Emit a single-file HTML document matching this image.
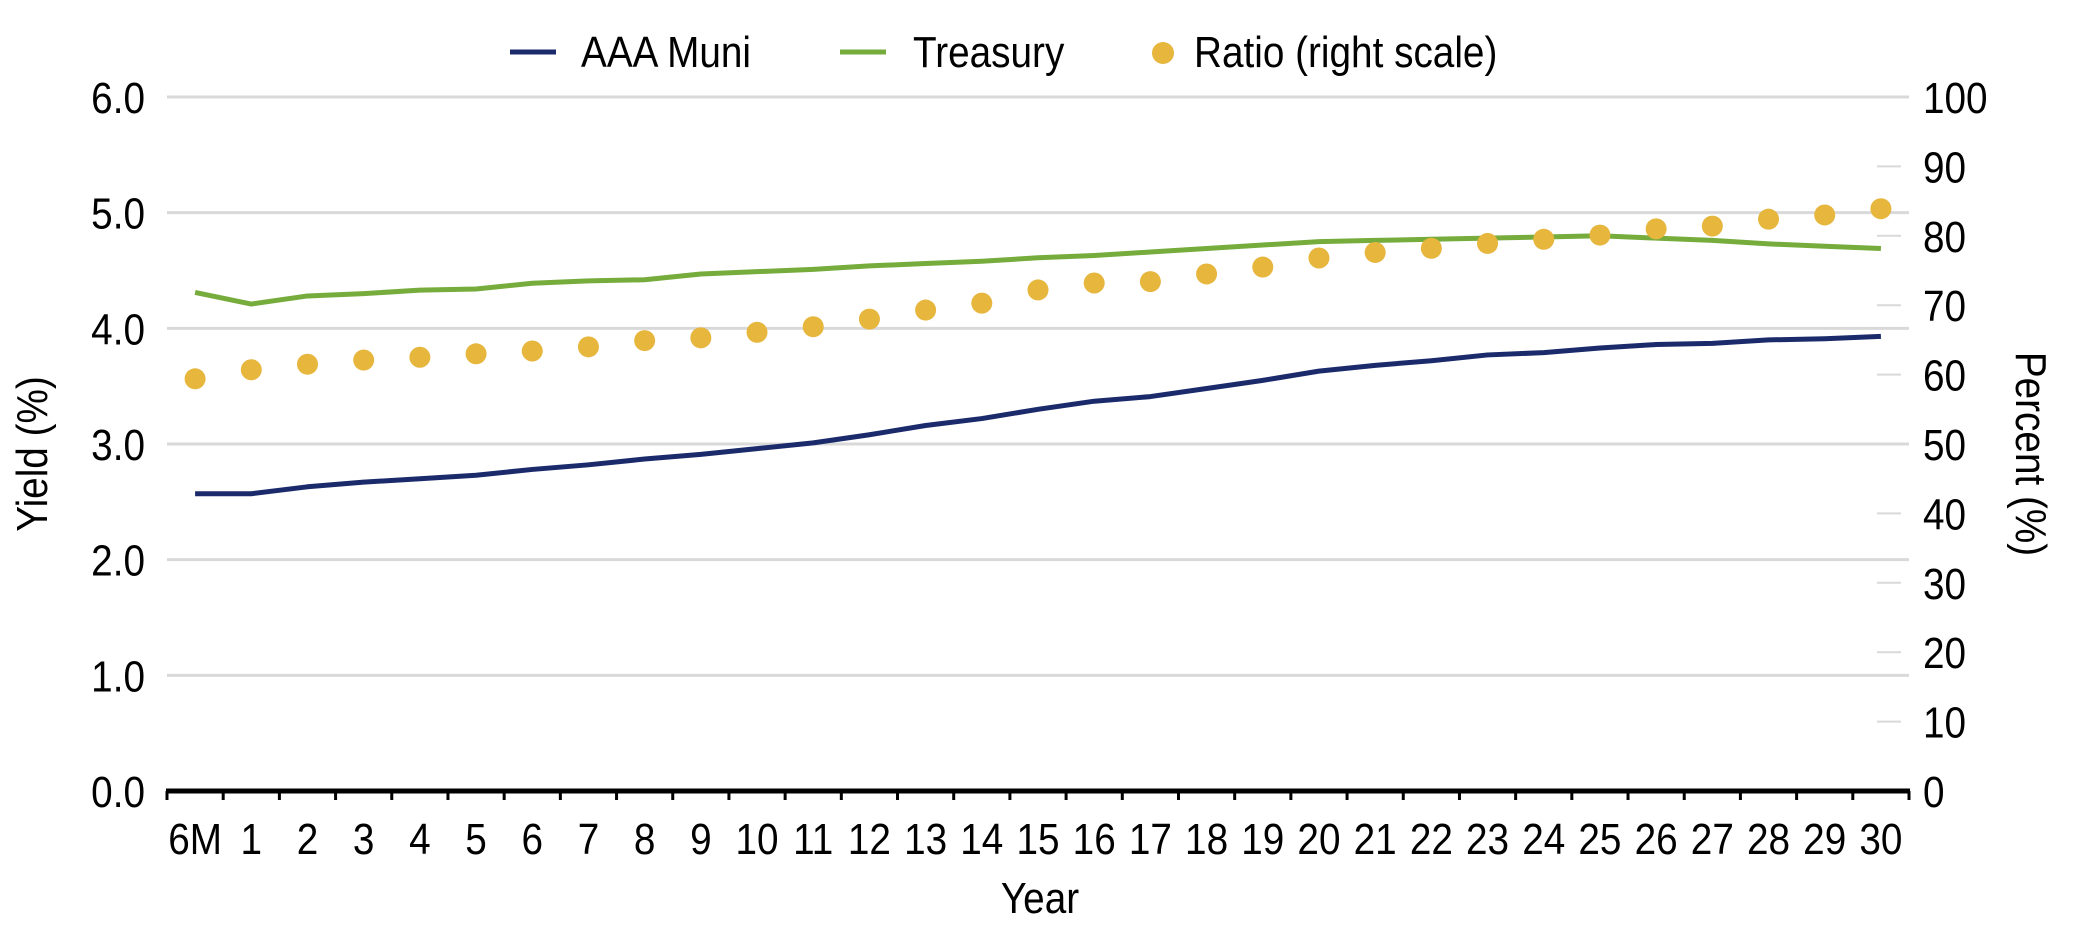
<!DOCTYPE html>
<html><head><meta charset="utf-8"><style>
html,body{margin:0;padding:0;background:#fff;}
svg{display:block;font-family:"Liberation Sans",sans-serif;}
</style></head><body>
<svg id="chart" width="2084" height="936" viewBox="0 0 2084 936" xmlns="http://www.w3.org/2000/svg"></svg>
<script>
const categories = ["6M","1","2","3","4","5","6","7","8","9","10","11","12","13","14","15","16","17","18","19","20","21","22","23","24","25","26","27","28","29","30"];
const muniValues = [2.57,2.57,2.63,2.67,2.70,2.73,2.78,2.82,2.87,2.91,2.96,3.01,3.08,3.16,3.22,3.30,3.37,3.41,3.48,3.55,3.63,3.68,3.72,3.77,3.79,3.83,3.86,3.87,3.90,3.91,3.93];
const treasuryValues = [4.31,4.21,4.28,4.30,4.33,4.34,4.39,4.41,4.42,4.47,4.49,4.51,4.54,4.56,4.58,4.61,4.63,4.66,4.69,4.72,4.75,4.76,4.77,4.78,4.79,4.80,4.78,4.76,4.73,4.71,4.69];
const ratioValues = [59.4,60.7,61.5,62.1,62.5,63.0,63.4,64.0,64.9,65.3,66.1,66.9,68.0,69.3,70.3,72.2,73.2,73.4,74.5,75.5,76.8,77.6,78.2,78.9,79.5,80.1,81.0,81.4,82.4,83.0,83.9];
const leftTicks = ["0.0","1.0","2.0","3.0","4.0","5.0","6.0"];
const rightTicks = ["0","10","20","30","40","50","60","70","80","90","100"];

const svg = document.getElementById('chart');
const NS = 'http://www.w3.org/2000/svg';
const X0 = 167, X1 = 1909, Y0 = 791, Y1 = 97;
const SX = 0.88, FS = 44;
const step = (X1 - X0) / categories.length;
const xPos = i => X0 + step * (i + 0.5);
const yLeft = v => Y0 - (v / 6) * (Y0 - Y1);
const yRight = v => Y0 - (v / 100) * (Y0 - Y1);

function mk(tag, attrs) { const e = document.createElementNS(NS, tag); for (const k in attrs) e.setAttribute(k, attrs[k]); svg.appendChild(e); return e; }
function txt(s, x, y, anchor, rot) {
  const t = mk('text', {transform: `translate(${x},${y})` + (rot ? ` rotate(${rot})` : '') + ` scale(${SX},1)`, 'text-anchor': anchor, 'font-size': FS, fill: '#000'});
  t.textContent = s; return t;
}

// gridlines (left scale) and right minor ticks
leftTicks.forEach((lab, i) => {
  const v = parseFloat(lab); const y = yLeft(v);
  if (v > 0) {
    const g = mk('line', {x1: X0, x2: X1, y1: y, y2: y, stroke: '#d9d9d9', 'stroke-width': 3});
    
    
  }
  const t = txt(lab, 145, y + 16, 'end');
  
  
});
rightTicks.forEach(lab => {
  const v = parseFloat(lab); const y = yRight(v);
  if (v > 0) {
    const m = mk('line', {x1: X1 - 32, x2: X1 - 8, y1: y, y2: y, stroke: '#d9d9d9', 'stroke-width': 2});
    
    
  }
  const t = txt(lab, 1923, y + 16, 'start');
  
  
});

// x axis
const ax = mk('line', {x1: X0 - 1, x2: X1 + 1, y1: Y0, y2: Y0, stroke: '#000', 'stroke-width': 5});


for (let i = 0; i <= categories.length; i++) {
  const x = X0 + step * i;
  const tk = mk('line', {x1: x, x2: x, y1: Y0, y2: Y0 + 9, stroke: '#000', 'stroke-width': 3});
  
  
}
categories.forEach((c, i) => {
  const t = txt(c, xPos(i), 854, 'middle');
  
  
});

// series lines
function line(vals, color, name) {
  const p = mk('polyline', {points: vals.map((v, i) => xPos(i) + ',' + yLeft(v)).join(' '), fill: 'none', stroke: color, 'stroke-width': 5, 'stroke-linejoin': 'round'});
  
  
}
line(treasuryValues, '#76ac3c', 'treasury-line');
line(muniValues, '#1b2a6b', 'aaa-muni-line');
ratioValues.forEach((v, i) => {
  const d = mk('circle', {cx: xPos(i), cy: yRight(v), r: 10.5, fill: '#e6b63d'});
  
  
});

// axis titles
let t = txt('Yield (%)', 47, 454, 'middle', -90);


t = txt('Percent (%)', 2016, 454, 'middle', 90);


t = txt('Year', 1040, 913, 'middle');



// legend
let l = mk('line', {x1: 510, x2: 556, y1: 52, y2: 52, stroke: '#1b2a6b', 'stroke-width': 5});


t = txt('AAA Muni', 581, 67, 'start');


l = mk('line', {x1: 840, x2: 886, y1: 52, y2: 52, stroke: '#76ac3c', 'stroke-width': 5});


t = txt('Treasury', 913, 67, 'start');


l = mk('circle', {cx: 1163, cy: 53, r: 11, fill: '#e6b63d'});


t = txt('Ratio (right scale)', 1194, 67, 'start');


</script>
</body></html>
